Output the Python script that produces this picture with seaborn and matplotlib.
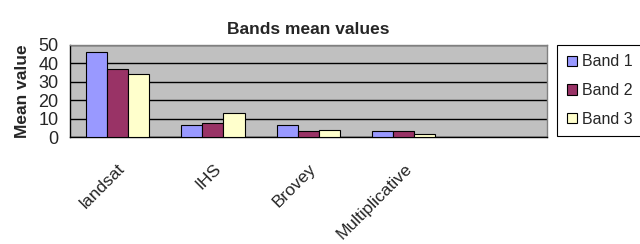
import matplotlib
matplotlib.use('Agg')
import matplotlib.pyplot as plt
import numpy as np
import pandas as pd
import seaborn as sns

########### DATA ###########
methods = ['landsat', 'IHS', 'Brovey', 'Multiplicative', '']
bands = ['Band 1', 'Band 2', 'Band 3']
band1 = [46, 6.5, 6.5, 3.4, np.nan]
band2 = [36.8, 7.9, 3.4, 3.4, np.nan]
band3 = [34.3, 13.2, 4.0, 2.0, np.nan]
y_ticks = [0, 10, 20, 30, 40, 50]

rows = []
for name, vals in zip(bands, [band1, band2, band3]):
    for m, v in zip(methods, vals):
        rows.append({'method': m, 'band': name, 'value': v})
df = pd.DataFrame(rows)

sns.set_style('white')
plt.rcParams['font.family'] = ['Liberation Sans', 'DejaVu Sans']

palette = {'Band 1': '#9999FF', 'Band 2': '#993366', 'Band 3': '#FFFFCC'}

fig = plt.figure(figsize=(6.4, 2.44), dpi=100)
ax = fig.add_axes([0.109, 0.437, 0.746, 0.379])

sns.barplot(data=df, x='method', y='value', hue='band', order=methods,
            hue_order=bands, palette=palette, width=0.66, saturation=1,
            edgecolor='black', linewidth=0.8, ax=ax, zorder=3)

ax.set_facecolor('#C0C0C0')
ax.set_xlim(-0.5, len(methods) - 0.5)
ax.set_ylim(0, 50)
ax.set_yticks(y_ticks)
ax.yaxis.grid(True, color='black', linewidth=1, zorder=0)
ax.set_axisbelow(True)

# labels at centres, tick marks at category boundaries
ax.set_xticks(range(len(methods)))
ax.set_xticklabels(methods, rotation=45, ha='right', rotation_mode='anchor', fontsize=12.5)
ax.set_xticks(np.arange(-0.5, len(methods), 1), minor=True)
ax.tick_params(axis='x', which='major', length=0, pad=17)
ax.tick_params(axis='x', which='minor', length=5, width=1, color='black', direction='out')
ax.tick_params(axis='y', length=5, width=1, color='black', direction='out', labelsize=13, pad=3)

for s in ['left', 'bottom']:
    ax.spines[s].set_color('black')
    ax.spines[s].set_linewidth(1)
for s in ['top', 'right']:
    ax.spines[s].set_color('#808080')
    ax.spines[s].set_linewidth(1)

ax.set_xlabel('')
ax.set_ylabel('Mean value', fontsize=12.5, fontweight='bold', labelpad=6)
ax.set_title('Bands mean values', fontsize=12.5, fontweight='bold', pad=8)

ax.legend_.remove()
handles = [plt.Rectangle((0, 0), 1, 1, facecolor=palette[b], edgecolor='black', linewidth=0.8) for b in bands]
leg = fig.legend(handles, bands, loc='upper left', bbox_to_anchor=(0.871, 0.816),
                 fontsize=11.5, frameon=True, fancybox=False, framealpha=1,
                 edgecolor='black', handlelength=0.65, handleheight=0.65,
                 handletextpad=0.3, labelspacing=0.85, borderpad=0.6,
                 borderaxespad=0)
leg.get_frame().set_linewidth(0.8)

fig.savefig('out.png', dpi=100)
